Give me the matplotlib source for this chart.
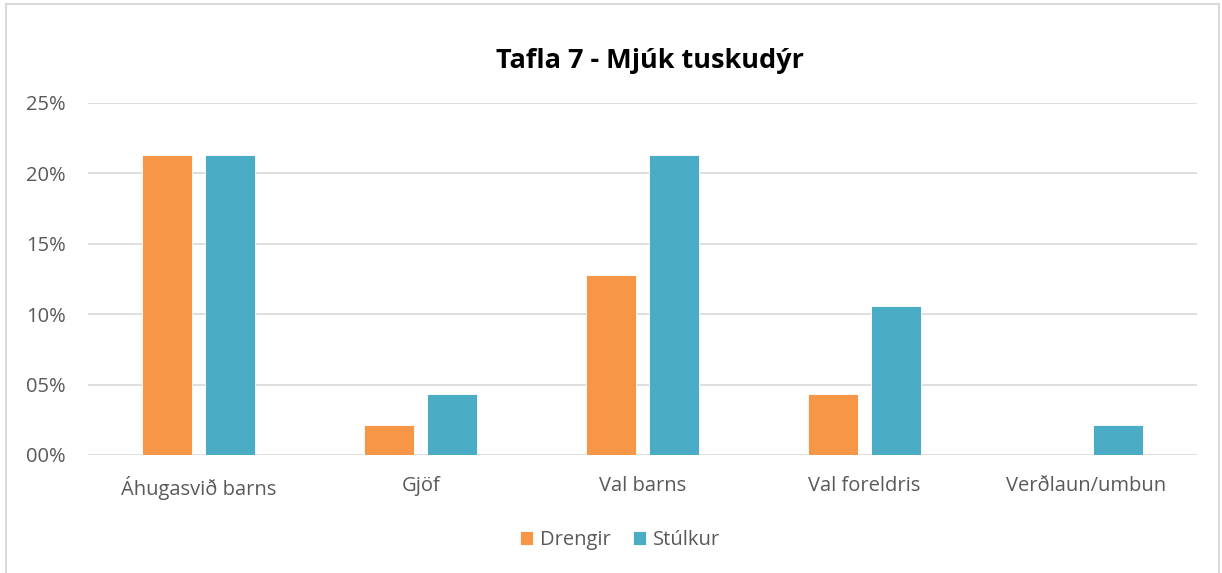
import matplotlib.pyplot as plt
from matplotlib.patches import Rectangle
import numpy as np

# gögn
categories = ["Áhugasvið barns", "Gjöf", "Val barns", "Val foreldris", "Verðlaun/umbun"]
drengir = [21.3, 2.1, 12.8, 4.3, 0.0]
stulkur = [21.3, 4.3, 21.3, 10.6, 2.1]
yticks = [0, 5, 10, 15, 20, 25]

plt.rcParams['font.family'] = ['Open Sans', 'DejaVu Sans']

fig = plt.figure(figsize=(12.22, 5.73), dpi=100)
fig.patches.append(Rectangle((6/1222, -0.05), 1213/1222, 1.05 - 4/573, transform=fig.transFigure,
                             fill=False, edgecolor='#D9D9D9', linewidth=1.5))
ax = fig.add_axes([88/1222, 1-455/573, 1109/1222, 352/573])

x = np.arange(len(categories))
w = 0.225
ax.bar(x - 0.142, drengir, w, color='#F79646', edgecolor='white', linewidth=0.6, label='Drengir', zorder=3)
ax.bar(x + 0.142, stulkur, w, color='#4BACC6', edgecolor='white', linewidth=0.6, label='Stúlkur', zorder=3)

ax.set_xlim(-0.5, len(categories) - 0.5)
ax.set_ylim(0, 25)
ax.set_yticks(yticks)
ax.set_yticklabels([f"{v:02d}%" for v in yticks])
ax.set_xticks(x)
ax.set_xticklabels(categories)
ax.grid(axis='y', color='#D9D9D9', linewidth=1.2, zorder=0)
for s in ax.spines.values():
    s.set_visible(False)
ax.tick_params(axis='both', length=0, labelsize=14.5, labelcolor='#595959')
ax.tick_params(axis='x', pad=15)
ax.tick_params(axis='y', pad=16)

fig.text(650/1222, 1-61/573, "Tafla 7 - Mjúk tuskudýr", ha='center', va='center',
         fontsize=19.5, fontweight='bold', color='black')
fig.legend(loc='center', bbox_to_anchor=(620/1222, 1-540/573), ncol=2, frameon=False,
           fontsize=14.5, handlelength=0.65, handleheight=0.65, handletextpad=0.35,
           columnspacing=1.1, labelcolor='#595959')

plt.savefig("out.png", dpi=100)
